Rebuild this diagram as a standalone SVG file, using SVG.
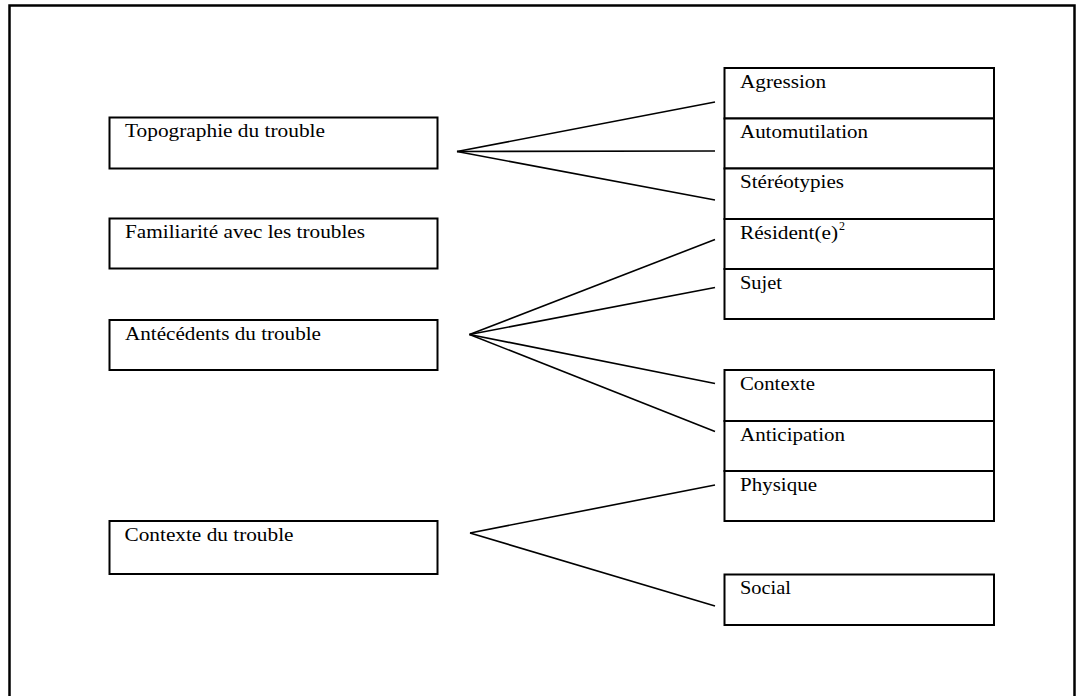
<svg xmlns="http://www.w3.org/2000/svg" width="1083" height="696" viewBox="0 0 1083 696">
  <style>
    .frame { fill: none; stroke: #000; stroke-width: 2.5; }
    .box { fill: #fff; stroke: #000; stroke-width: 2; }
    .link { fill: none; stroke: #000; stroke-width: 1.6; }
    text { font-family: "Liberation Serif", "Times New Roman", serif; font-size: 19px; fill: #000; }
    .sup { font-size: 12px; }
  </style>
  <rect width="1083" height="696" fill="#fff"/>
  <rect class="frame" x="9.5" y="5.5" width="1065" height="720"/>

  <!-- connectors -->
  <g id="connectors">
    <line class="link" x1="457" y1="151.5" x2="715" y2="102"/>
    <line class="link" x1="457" y1="151.5" x2="715" y2="151"/>
    <line class="link" x1="457" y1="151.5" x2="715" y2="200"/>
    <line class="link" x1="469.5" y1="334.5" x2="715" y2="239.5"/>
    <line class="link" x1="469.5" y1="334.5" x2="715" y2="287.5"/>
    <line class="link" x1="469.5" y1="334.5" x2="715" y2="383.5"/>
    <line class="link" x1="469.5" y1="334.5" x2="715" y2="431.5"/>
    <line class="link" x1="470" y1="533" x2="715" y2="485"/>
    <line class="link" x1="470" y1="533" x2="715" y2="606"/>
  </g>

  <!-- left column -->
  <g id="topographie">
    <rect class="box" x="109.5" y="117.5" width="328" height="51"/>
    <text x="125" y="137" textLength="200" lengthAdjust="spacingAndGlyphs">Topographie du trouble</text>
  </g>
  <g id="familiarite">
    <rect class="box" x="109.5" y="218.5" width="328" height="50"/>
    <text x="125" y="238" textLength="240" lengthAdjust="spacingAndGlyphs">Familiarité avec les troubles</text>
  </g>
  <g id="antecedents">
    <rect class="box" x="109.5" y="320" width="328" height="50"/>
    <text x="125" y="340" textLength="196" lengthAdjust="spacingAndGlyphs">Antécédents du trouble</text>
  </g>
  <g id="contexte-trouble">
    <rect class="box" x="109.5" y="521" width="328" height="53"/>
    <text x="124.5" y="541" textLength="169" lengthAdjust="spacingAndGlyphs">Contexte du trouble</text>
  </g>

  <!-- right column -->
  <g id="agression">
    <rect class="box" x="724.5" y="68" width="269.5" height="50.5"/>
    <text x="740" y="88" textLength="86" lengthAdjust="spacingAndGlyphs">Agression</text>
  </g>
  <g id="automutilation">
    <rect class="box" x="724.5" y="118.5" width="269.5" height="50"/>
    <text x="740" y="138" textLength="128" lengthAdjust="spacingAndGlyphs">Automutilation</text>
  </g>
  <g id="stereotypies">
    <rect class="box" x="724.5" y="168.5" width="269.5" height="50.5"/>
    <text x="740" y="188" textLength="104" lengthAdjust="spacingAndGlyphs">Stéréotypies</text>
  </g>
  <g id="resident">
    <rect class="box" x="724.5" y="219" width="269.5" height="50"/>
    <text x="740" y="238.5"><tspan textLength="98" lengthAdjust="spacingAndGlyphs">Résident(e)</tspan><tspan class="sup" dx="1" dy="-9">2</tspan></text>
  </g>
  <g id="sujet">
    <rect class="box" x="724.5" y="269" width="269.5" height="50"/>
    <text x="740" y="288.5" textLength="42" lengthAdjust="spacingAndGlyphs">Sujet</text>
  </g>
  <g id="contexte">
    <rect class="box" x="724.5" y="370" width="269.5" height="51"/>
    <text x="740" y="389.5" textLength="75" lengthAdjust="spacingAndGlyphs">Contexte</text>
  </g>
  <g id="anticipation">
    <rect class="box" x="724.5" y="421" width="269.5" height="50"/>
    <text x="740" y="440.5" textLength="105" lengthAdjust="spacingAndGlyphs">Anticipation</text>
  </g>
  <g id="physique">
    <rect class="box" x="724.5" y="471" width="269.5" height="50"/>
    <text x="740" y="490.5" textLength="77" lengthAdjust="spacingAndGlyphs">Physique</text>
  </g>
  <g id="social">
    <rect class="box" x="724.5" y="574.5" width="269.5" height="50.5"/>
    <text x="740" y="594" textLength="51" lengthAdjust="spacingAndGlyphs">Social</text>
  </g>
</svg>
